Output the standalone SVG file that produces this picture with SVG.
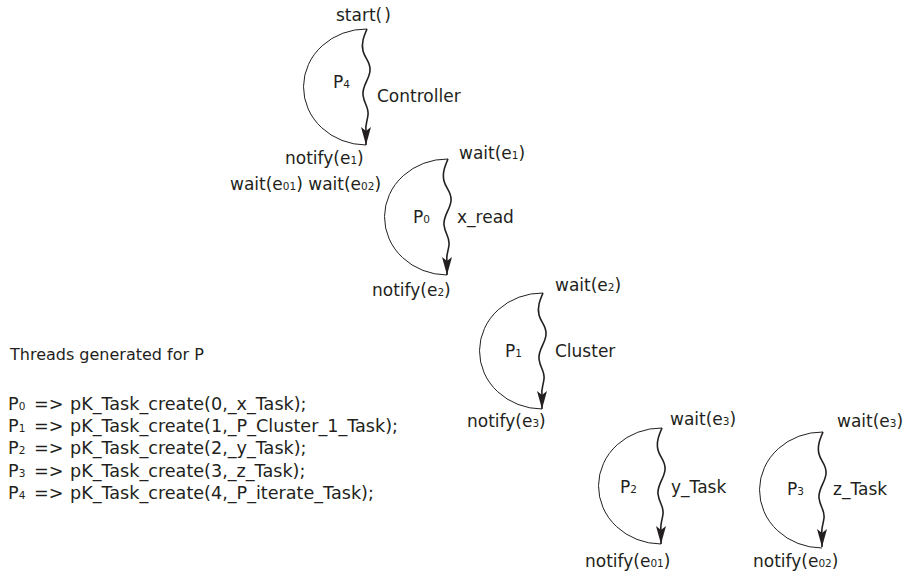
<svg xmlns="http://www.w3.org/2000/svg" xmlns:xlink="http://www.w3.org/1999/xlink" width="903" height="577" viewBox="0 0 903 577">
<style>
  .arc { fill: none; stroke: #231f20; stroke-width: 1; }
  .wave { fill: none; stroke: #231f20; stroke-width: 1.6; marker-end: url(#arrow); }
  text { font-family: "DejaVu Sans", "Liberation Sans", sans-serif; font-size: 17px; fill: #231f20; }
  .sub { font-size: 10.5px; }
  .code { font-size: 17.6px; }
</style>
<defs>
  <marker id="arrow" markerUnits="userSpaceOnUse" viewBox="0 0 18 10" refX="18" refY="5" markerWidth="18" markerHeight="10" orient="auto">
    <path d="M0,0 L18,5 L0,10 L4,5 Z" fill="#231f20"/>
  </marker>
  <path id="halfcircle" class="arc" d="M0,0 A63,58 0 0 0 -1,116"/>
</defs>
<rect width="903" height="577" fill="#ffffff"/>

<g id="P4">
  <use xlink:href="#halfcircle" x="367" y="29"/>
  <text x="336" y="21" word-spacing="-3.5">start( )</text>
  <text x="333" y="88">P<tspan class="sub">4</tspan></text>
  <text x="377" y="102">Controller</text>
  <text x="285" y="164">notify(e<tspan class="sub">1</tspan>)</text>
</g>

<g id="P0">
  <use xlink:href="#halfcircle" x="448" y="159"/>
  <text x="459" y="159">wait(e<tspan class="sub">1</tspan>)</text>
  <text x="230" y="190">wait(e<tspan class="sub">01</tspan>) wait(e<tspan class="sub">02</tspan>)</text>
  <text x="413" y="223">P<tspan class="sub">0</tspan></text>
  <text x="457" y="223">x_read</text>
  <text x="372" y="296">notify(e<tspan class="sub">2</tspan>)</text>
</g>

<g id="P1">
  <use xlink:href="#halfcircle" x="543" y="293"/>
  <text x="555" y="291">wait(e<tspan class="sub">2</tspan>)</text>
  <text x="505" y="357">P<tspan class="sub">1</tspan></text>
  <text x="555" y="357">Cluster</text>
  <text x="467" y="427">notify(e<tspan class="sub">3</tspan>)</text>
</g>

<g id="P2">
  <use xlink:href="#halfcircle" x="662" y="428"/>
  <text x="670" y="425">wait(e<tspan class="sub">3</tspan>)</text>
  <text x="620" y="493">P<tspan class="sub">2</tspan></text>
  <text x="671" y="493">y_Task</text>
  <text x="585" y="567">notify(e<tspan class="sub">01</tspan>)</text>
</g>

<g id="P3">
  <use xlink:href="#halfcircle" x="823" y="432"/>
  <text x="837" y="427">wait(e<tspan class="sub">3</tspan>)</text>
  <text x="787" y="495">P<tspan class="sub">3</tspan></text>
  <text x="833" y="495">z_Task</text>
  <text x="753" y="567">notify(e<tspan class="sub">02</tspan>)</text>
</g>

<g id="connectors">
  <path class="wave" transform="translate(367,29)" d="M0,0 C-3,7 -6,14 -4,22 S4,33 3,42 S-5,57 -4,66 S2,78 1,86 S-2,96 -1,102 L-1,116"/>
  <path class="wave" transform="translate(448,159)" d="M0,0 C-3,7 -6,14 -4,22 S4,33 3,42 S-5,57 -4,66 S2,78 1,86 S-2,96 -1,102 L-1,116"/>
  <path class="wave" transform="translate(543,293)" d="M0,0 C-3,7 -6,14 -4,22 S4,33 3,42 S-5,57 -4,66 S2,78 1,86 S-2,96 -1,102 L-1,116"/>
  <path class="wave" transform="translate(662,428)" d="M0,0 C-3,7 -6,14 -4,22 S4,33 3,42 S-5,57 -4,66 S2,78 1,86 S-2,96 -1,102 L-1,116"/>
  <path class="wave" transform="translate(823,432)" d="M0,0 C-3,7 -6,14 -4,22 S4,33 3,42 S-5,57 -4,66 S2,78 1,86 S-2,96 -1,102 L-1,115"/>
</g>

<g id="legend">
  <text x="10" y="360" style="font-size:16px">Threads generated for P</text>
  <text class="code" x="8" y="410">P<tspan class="sub">0</tspan></text>
  <text class="code" x="34" y="410">=&gt;</text>
  <text class="code" x="70" y="410">pK_Task_create(0,_x_Task);</text>
  <text class="code" x="8" y="432">P<tspan class="sub">1</tspan></text>
  <text class="code" x="34" y="432">=&gt;</text>
  <text class="code" x="70" y="432">pK_Task_create(1,_P_Cluster_1_Task);</text>
  <text class="code" x="8" y="454">P<tspan class="sub">2</tspan></text>
  <text class="code" x="34" y="454">=&gt;</text>
  <text class="code" x="70" y="454">pK_Task_create(2,_y_Task);</text>
  <text class="code" x="8" y="477">P<tspan class="sub">3</tspan></text>
  <text class="code" x="34" y="477">=&gt;</text>
  <text class="code" x="70" y="477">pK_Task_create(3,_z_Task);</text>
  <text class="code" x="8" y="499">P<tspan class="sub">4</tspan></text>
  <text class="code" x="34" y="499">=&gt;</text>
  <text class="code" x="70" y="499">pK_Task_create(4,_P_iterate_Task);</text>
</g>
</svg>
